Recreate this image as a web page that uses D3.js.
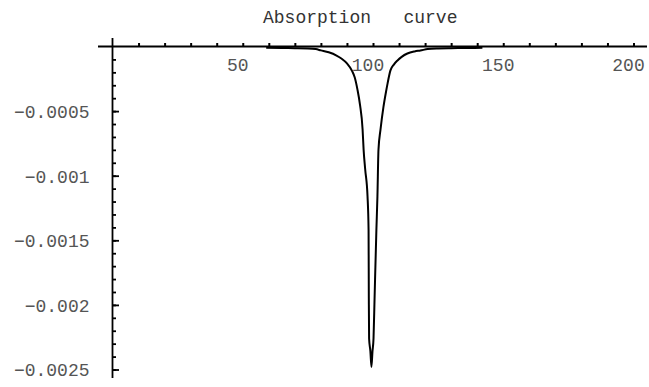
<!DOCTYPE html>
<html>
<head>
<meta charset="utf-8">
<script src="https://cdn.jsdelivr.net/npm/d3@7"></script>
<style>
  html, body { margin: 0; padding: 0; background: #fff; }
  svg { display: block; }
  text { font-family: "Liberation Mono", "Courier New", monospace; }
</style>
</head>
<body>
<svg id="chart" width="649" height="387"></svg>
<script>
// Absorption curve samples (x in channel units, y absorption)
const xs = [59, 65, 70, 75, 78, 80, 83, 86, 88, 90, 92, 93, 94, 95, 96, 96.4, 97, 97.9,
            98.3, 98.4, 98.5, 99.0, 99.4, 99.8, 100.2, 100.6, 101.3, 101.7, 102.1, 102.9,
            104, 105, 105.6, 106.7, 108, 109.4, 111, 113.2, 116, 118.2, 121, 125, 130, 135, 142];
const ys = [-0.10, -0.12, -0.13, -0.15, -0.20, -0.30, -0.45, -0.70, -0.95, -1.30, -1.90, -2.40,
            -3.30, -4.50, -6.40, -8.00, -9.50, -11.6, -14.2, -19.5, -22.6, -23.6, -24.8, -23.6,
            -22.6, -19.5, -14.2, -11.6, -8.00, -6.40, -4.70, -3.50, -2.85, -1.85, -1.40, -1.08,
            -0.80, -0.54, -0.38, -0.31, -0.20, -0.15, -0.13, -0.12, -0.10].map(v => v * 1e-4);

// Axis ticks and labels
const xMinorTicks = d3.range(10, 201, 10);
const xLabelTicks = [50, 100, 150, 200];
const yMinorTicks = d3.range(-0.0001, -0.00251, -0.0001);
const yMajorTicks = [-0.0005, -0.001, -0.0015, -0.002, -0.0025];
const yLabels = ["\u22120.0005", "\u22120.001", "\u22120.0015", "\u22120.002", "\u22120.0025"];
const title = "Absorption   curve";

const svg = d3.select("#chart");
const x = d3.scaleLinear().domain([0, 200]).range([112.5, 633.5]);
const y = d3.scaleLinear().domain([0, -0.0025]).range([46.5, 369.5]);

// x axis: long line with small upward ticks
svg.append("line")
  .attr("x1", 98).attr("x2", 647)
  .attr("y1", y(0)).attr("y2", y(0))
  .attr("stroke", "#000").attr("stroke-width", 1.8);

const gx = svg.append("g").attr("transform", `translate(0,${y(0)})`)
  .call(d3.axisBottom(x).tickValues(xMinorTicks).tickSize(-3.5).tickFormat(""));
gx.select(".domain").remove();
gx.selectAll(".tick line").attr("stroke", "#000").attr("stroke-width", 2);

svg.append("g").selectAll("text").data(xLabelTicks).join("text")
  .attr("x", d => x(d) - 5)
  .attr("y", 71)
  .attr("text-anchor", "middle")
  .attr("font-size", 18)
  .attr("fill", "#555")
  .text(d => d);

// y axis
svg.append("line")
  .attr("x1", x(0)).attr("x2", x(0))
  .attr("y1", 38).attr("y2", 378)
  .attr("stroke", "#000").attr("stroke-width", 1.8);

const gyMinor = svg.append("g").attr("transform", `translate(${x(0)},0)`)
  .call(d3.axisRight(y).tickValues(yMinorTicks).tickSize(3.5).tickFormat(""));
gyMinor.select(".domain").remove();
gyMinor.selectAll(".tick line").attr("stroke", "#000").attr("stroke-width", 1.8);

const gyMajor = svg.append("g").attr("transform", `translate(${x(0)},0)`)
  .call(d3.axisRight(y).tickValues(yMajorTicks).tickSize(6.5)
    .tickFormat((d, i) => yLabels[i]));
gyMajor.select(".domain").remove();
gyMajor.selectAll(".tick line").attr("stroke", "#000").attr("stroke-width", 1.8);
gyMajor.selectAll(".tick text")
  .attr("x", -23)
  .attr("dy", "0.35em")
  .attr("text-anchor", "end")
  .attr("font-size", 18)
  .attr("font-family", "Liberation Mono, Courier New, monospace")
  .attr("fill", "#555");

// the curve
const pts = xs.map((v, i) => [v, ys[i]]);
svg.append("path")
  .datum(pts)
  .attr("fill", "none")
  .attr("stroke", "#000")
  .attr("stroke-width", 2)
  .attr("stroke-linejoin", "round")
  .attr("d", d3.line().x(d => x(d[0])).y(d => y(d[1])).curve(d3.curveMonotoneX));

// title
svg.append("text")
  .attr("x", 263)
  .attr("y", 23)
  .attr("font-size", 18)
  .attr("fill", "#333")
  .style("white-space", "pre")
  .attr("xml:space", "preserve")
  .text(title);
</script>
</body>
</html>
